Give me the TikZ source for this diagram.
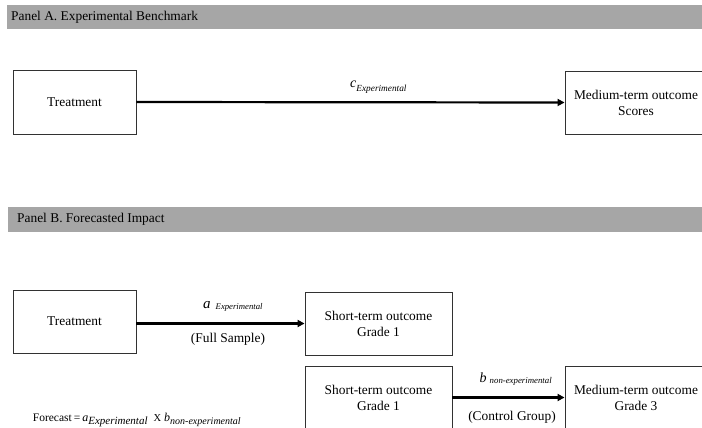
\documentclass[tikz,border=0pt]{standalone}
\usepackage{fontspec}
\setmainfont{Liberation Serif}
\usetikzlibrary{arrows.meta}
\definecolor{barg}{RGB}{166,166,166}
\definecolor{boxline}{RGB}{50,50,50}
\begin{document}
\begin{tikzpicture}[x=1pt,y=-1pt,
  box/.style={draw=boxline, line width=0.9pt, inner sep=0pt, align=center, font=\fontsize{13.4}{16}\selectfont},
  barlabel/.style={anchor=west, inner sep=0pt, font=\fontsize{13.4}{16}\selectfont},
  link/.style={line width=2.2pt, -{Triangle[length=7pt,width=7pt]}},
  lbl/.style={inner sep=0pt, font=\fontsize{13.4}{16}\selectfont},
  sublbl/.style={anchor=base west, inner sep=0pt}]
\useasboundingbox (0,0) rectangle (702,428);
\clip (0,0) rectangle (702,428);
\fill[white] (0,0) rectangle (702,428);
% panel bars
\fill[barg] (7,5) rectangle (710,29);
\node[barlabel] (pa) at (11,17) {Panel A. Experimental Benchmark};
\fill[barg] (8,207) rectangle (710,232);
\node[barlabel] (pb) at (17,219.5) {Panel B. Forecasted Impact};
% panel A
\node[box, minimum width=123pt, minimum height=64pt] (tA) at (74.5,102) {Treatment};
\node[box, minimum width=142pt, minimum height=63pt] (mA) at (636,102.5) {Medium-term outcome\\Scores};
\draw[link] (tA.east) -- (mA.west);
\node[sublbl] (lc) at (350,88) {\fontsize{14}{16}\selectfont\textit{c}\raisebox{-3.5pt}{\fontsize{9.3}{10}\selectfont\textit{Experimental}}};
% panel B
\node[box, minimum width=123pt, minimum height=63pt] (tB) at (74.5,321.5) {Treatment};
\node[box, minimum width=147pt, minimum height=63pt] (s1) at (378.5,323.5) {Short-term outcome\\Grade 1};
\node[box, minimum width=147pt, minimum height=63pt] (s2) at (378.5,397.5) {Short-term outcome\\Grade 1};
\node[box, minimum width=142pt, minimum height=63pt] (mB) at (636,397.5) {Medium-term outcome\\Grade 3};
\draw[link] (s1.west -| tB.east) -- (s1.west);
\draw[link] (s2.east) -- (mB.west);
\node[sublbl] (la) at (203,308) {\fontsize{15}{16}\selectfont\textit{a}\hspace{5pt}\raisebox{-1.5pt}{\fontsize{8.7}{10}\selectfont\textit{Experimental}}};
\node[lbl] (fs) at (228,339) {(Full Sample)};
\node[sublbl] (lb) at (479.5,382) {\fontsize{14}{16}\selectfont\textit{b}\hspace{3pt}\raisebox{-1.5pt}{\fontsize{8.8}{10}\selectfont\textit{non-experimental}}};
\node[lbl] (cg) at (512,417) {(Control Group)};
\node[sublbl] (fc) at (32.7,421.5) {\fontsize{11.5}{12}\selectfont Forecast\hspace{2pt}=\hspace{2pt}{\fontsize{12}{12}\selectfont\textit{a}}\raisebox{-3pt}{\fontsize{11}{12}\selectfont\textit{Experimental}}\hspace{6pt}{\fontsize{10.5}{12}\selectfont X}\hspace{3pt}{\fontsize{12}{12}\selectfont\textit{b}}\raisebox{-3pt}{\fontsize{10}{12}\selectfont\textit{non-experimental}}};
\end{tikzpicture}
\end{document}
